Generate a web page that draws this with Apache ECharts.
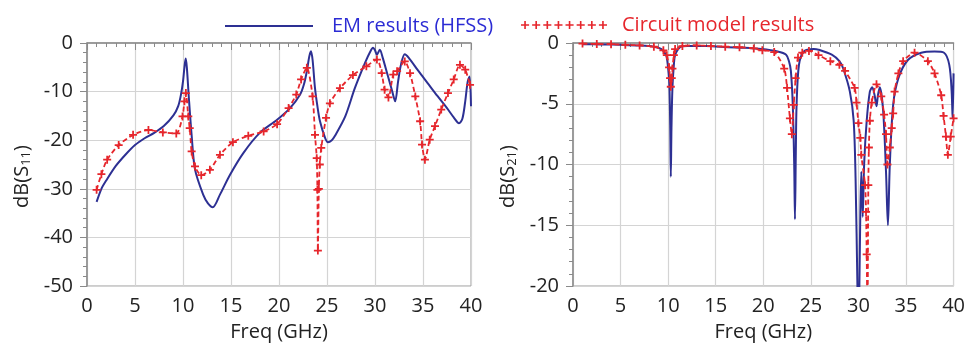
<!DOCTYPE html>
<html>
<head>
    <meta charset="utf-8">
    <title>S11 / S21</title>
    <script src="https://cdn.jsdelivr.net/npm/echarts@6.0.0/dist/echarts.min.js"></script>
    <style>
        *{
            margin: 0;
            padding: 0;
        }
        html,body{
            width: 100%;
            height: 100%;
            overflow: hidden;
            background: #fff;
        }
        #main{
            width: 968px;
            height: 348px;
        }
    </style>
</head>
<body>
<div id="main"></div>
<script>
    // legend names
    let emName = 'EM results (HFSS)';
    let circuitName = 'Circuit model results';

    // axis ticks
    let freqTicks = [0, 5, 10, 15, 20, 25, 30, 35, 40];
    let s11Ticks = [-50, -40, -30, -20, -10, 0];
    let s21Ticks = [-20, -15, -10, -5, 0];

    // S11, EM (HFSS)
    let s11EmFreq = [1.0, 1.5, 2.0, 3.0, 4.0, 5.0, 6.0, 7.0, 8.0, 9.0, 9.5, 9.8, 10.0, 10.15, 10.28, 10.4, 10.6, 10.9, 11.25, 12.1, 12.6, 13.1,
        13.85, 14.9, 16.3, 18.0, 19.8, 21.15, 22.2, 22.6, 22.9, 23.15, 23.33, 23.5, 23.75, 24.0, 24.27, 24.8, 25.1, 25.5, 25.8,
        26.9, 27.9, 28.96, 29.5, 29.8, 30.0, 30.2, 30.5, 30.8, 31.3, 31.8, 32.1, 32.4, 32.7, 33.1, 33.5, 34.5, 35.5, 36.5, 37.5,
        38.2, 38.75, 39.1, 39.4, 39.65, 39.85, 40.0];
    let s11EmDb = [-32.7, -30.0, -28.3, -25.3, -23.0, -21.0, -19.6, -18.5, -17.1, -14.9, -13.0, -10.5, -7.9, -5.0, -3.2, -5.0, -11.0, -19.0, -26.0, -31.2, -33.0, -33.8,
        -31.2, -27.1, -22.6, -18.5, -15.8, -13.4, -10.6, -8.5, -5.8, -2.8, -1.7, -3.5, -9.3, -13.0, -16.1, -19.5, -20.4, -20.0, -19.2,
        -15.1, -9.3, -4.1, -1.8, -1.0, -1.5, -2.4, -1.4, -3.0, -6.5, -10.0, -12.0, -8.0, -4.5, -2.3, -3.0, -5.7, -8.3, -10.9, -13.4,
        -15.3, -16.5, -15.6, -12.0, -8.0, -6.9, -13.0];

    // S11, circuit model
    let s11CmFreq = [1.0, 1.5, 2.1, 3.3, 4.8, 6.4, 7.9, 9.3, 9.95, 10.15, 10.3, 10.55, 10.7, 10.9, 11.25, 11.9, 12.8, 13.85, 15.2, 16.8,
        18.4, 19.8, 21.0, 21.8, 22.3, 22.9, 23.5, 23.75, 23.93, 24.0, 24.05, 24.15, 24.25, 24.4, 24.9, 25.3, 26.35, 27.7, 29.1, 30.2,
        30.7, 31.0, 31.4, 31.9, 32.3, 33.1, 33.65, 34.2, 34.7, 34.9, 35.2, 35.7, 36.25, 36.9, 37.6, 38.2, 38.85, 39.4, 39.9];
    let s11CmDb = [-30.2, -27.0, -24.0, -21.0, -18.9, -17.9, -18.4, -18.6, -15.1, -12.0, -10.3, -15.1, -17.5, -22.3, -25.4, -27.2, -26.1, -23.0, -20.4, -19.1,
        -18.2, -16.7, -13.4, -10.6, -7.5, -5.1, -11.0, -18.9, -23.7, -30.2, -42.7, -30.0, -25.0, -21.6, -15.4, -12.4, -9.3, -6.6, -4.8, -3.4,
        -6.2, -9.6, -11.2, -6.5, -5.8, -3.8, -6.2, -11.0, -16.1, -20.9, -24.0, -19.9, -17.1, -13.7, -10.3, -7.5, -4.5, -5.5, -8.6];

    // S21, EM (HFSS)
    let s21EmFreq = [1.0, 3.0, 5.0, 7.0, 8.5, 9.3, 9.7, 9.86, 10.05, 10.14, 10.22, 10.28, 10.35, 10.45, 10.6, 10.73, 11.25, 12.0, 14.0,
        16.3, 18.0, 19.8, 21.5, 22.4, 22.7, 22.9, 23.1, 23.25, 23.33, 23.42, 23.5, 23.75, 24.27, 25.3, 25.8, 27.2, 28.0, 28.4,
        29.1, 29.5, 29.7, 29.9, 30.0, 30.1, 30.2, 30.3, 30.45, 30.6, 30.87, 31.2, 31.45, 31.7, 31.9, 32.05, 32.25, 32.6, 32.9,
        33.1, 33.3, 33.65, 34.2, 35.2, 36.6, 38.0, 39.0, 39.55, 39.8, 39.9, 40.0];
    let s21EmDb = [-0.1, -0.12, -0.15, -0.2, -0.3, -0.5, -0.9, -1.2, -2.5, -3.7, -7.0, -11.0, -7.0, -3.7, -1.8, -1.0, -0.35, -0.25, -0.25,
        -0.35, -0.4, -0.5, -0.7, -0.96, -1.5, -2.3, -5.1, -10.0, -14.5, -9.0, -5.1, -1.8, -0.7, -0.5, -0.55, -0.96, -1.5, -2.1,
        -4.0, -6.4, -11.1, -20.2, -24.0, -20.0, -13.9, -10.6, -14.3, -10.0, -6.4, -4.0, -3.65, -4.3, -5.2, -4.3, -3.65, -5.6, -10.6,
        -15.0, -10.0, -5.1, -2.9, -1.4, -0.8, -0.7, -0.8, -1.8, -4.0, -6.2, -2.5];

    // S21, circuit model
    let s21CmFreq = [1.0, 2.5, 4.0, 5.5, 7.0, 8.5, 9.5, 9.86, 10.1, 10.2, 10.28, 10.38, 10.45, 10.6, 10.73, 11.5, 13.0, 14.5, 16.0,
        17.5, 19.0, 19.9, 21.15, 22.2, 22.5, 22.8, 23.0, 23.2, 23.4, 23.65, 24.1, 24.8, 25.8, 27.05, 28.0, 28.6, 29.6, 29.8, 30.0,
        30.2, 30.3, 30.7, 30.8, 30.87, 30.95, 31.04, 31.1, 31.2, 31.4, 31.9, 32.4, 32.7, 32.9, 33.05, 33.3, 33.5, 33.65, 33.8,
        34.2, 34.7, 35.9, 37.3, 38.0, 38.7, 38.95, 39.2, 39.4, 39.7, 40.0];
    let s21CmDb = [-0.05, -0.08, -0.1, -0.15, -0.2, -0.3, -0.6, -1.0, -2.0, -2.9, -3.6, -2.9, -2.1, -1.0, -0.5, -0.25, -0.2, -0.25, -0.3,
        -0.35, -0.45, -0.6, -0.75, -2.1, -3.7, -6.2, -7.5, -5.1, -2.9, -1.2, -0.8, -0.65, -1.0, -1.5, -1.8, -2.3, -3.7, -4.9, -6.6,
        -7.8, -9.2, -11.7, -13.9, -17.4, -23.0, -11.7, -8.6, -6.4, -4.9, -3.4, -4.4, -5.9, -7.5, -10.0, -8.6, -7.0, -5.8, -4.0,
        -2.5, -1.5, -0.8, -1.5, -2.5, -4.3, -6.0, -7.7, -9.2, -7.7, -6.2];

    function pairs(xs, ys) {
        return xs.map((x, i) => [x, ys[i]]);
    }

    let blue = '#2d3093';
    let red = '#e6262c';
    let textColor = '#222';
    let font = 'Open Sans';
    // small filled plus used as marker
    let plus = 'path://M3.5,0H5.5V3.5H9V5.5H5.5V9H3.5V5.5H0V3.5H3.5Z';

    // legend icon: dashed line with pluses
    let legendPath = 'path://';
    [4, 15, 26, 37, 48, 59, 70, 81].forEach(c => {
        legendPath += 'M' + (c - 4) + ',5.2H' + (c + 4) + 'V6.8H' + (c - 4) + 'Z';
        legendPath += 'M' + (c - 0.8) + ',2H' + (c + 0.8) + 'V10H' + (c - 0.8) + 'Z';
    });

    function xAxis(gridIndex) {
        return {
            gridIndex,
            type: 'value',
            min: freqTicks[0],
            max: freqTicks[freqTicks.length - 1],
            interval: freqTicks[1] - freqTicks[0],
            name: 'Freq (GHz)',
            nameLocation: 'middle',
            nameGap: 36,
            nameTextStyle: {color: textColor, fontSize: 20, fontFamily: font},
            axisLine: {lineStyle: {color: '#8a8a8a', width: 1.5}},
            axisTick: {length: 7, lineStyle: {color: '#8a8a8a'}},
            minorTick: {show: true, splitNumber: 5, length: 4, lineStyle: {color: '#8a8a8a'}},
            axisLabel: {color: textColor, fontSize: 20, fontFamily: font, margin: 10},
            splitLine: {lineStyle: {color: '#d4d4d4', width: 1.2}}
        };
    }

    function yAxis(gridIndex, ticks, sub, minorSplit) {
        return {
            gridIndex,
            type: 'value',
            min: ticks[0],
            max: ticks[ticks.length - 1],
            interval: ticks[1] - ticks[0],
            name: 'dB(S{s|' + sub + '})',
            nameLocation: 'middle',
            nameGap: 54,
            nameTextStyle: {
                color: textColor, fontSize: 20, fontFamily: font,
                padding: [0, 24, 0, 0],
                rich: {s: {fontSize: 13, fontFamily: font, color: textColor, padding: [9, 0, 0, 0]}}
            },
            axisLine: {show: true, lineStyle: {color: '#8a8a8a', width: 1.5}},
            axisTick: {show: true, length: 7, lineStyle: {color: '#8a8a8a'}},
            minorTick: {show: true, splitNumber: minorSplit, length: 4, lineStyle: {color: '#8a8a8a'}},
            axisLabel: {color: textColor, fontSize: 20, fontFamily: font, margin: 14},
            splitLine: {lineStyle: {color: '#d4d4d4', width: 1.2}}
        };
    }

    function emSeries(idx, data) {
        return {
            name: emName,
            type: 'line',
            xAxisIndex: idx,
            yAxisIndex: idx,
            data,
            symbol: 'none',
            smooth: 0.3,
            lineStyle: {color: blue, width: 2},
            itemStyle: {color: blue},
            z: 3
        };
    }

    function cmSeries(idx, data) {
        return {
            name: circuitName,
            type: 'line',
            xAxisIndex: idx,
            yAxisIndex: idx,
            data,
            symbol: plus,
            symbolSize: 8,
            showAllSymbol: true,
            smooth: 0.25,
            lineStyle: {color: red, width: 1.8, type: [5, 3]},
            itemStyle: {color: red},
            z: 4
        };
    }

    let myCharts = echarts.init(document.getElementById('main'), null, {renderer: 'canvas'});
    let option = {
        backgroundColor: '#fff',
        animation: false,
        legend: [{
            data: [{name: emName, icon: 'path://M0,0H88V2H0Z'}],
            left: 220,
            top: 11,
            itemWidth: 88,
            itemHeight: 2,
            textStyle: {color: '#2b2bd4', fontSize: 20, fontFamily: font, padding: [0, 0, 0, 14]}
        }, {
            data: [{name: circuitName, icon: legendPath}],
            left: 516,
            top: 10,
            itemWidth: 86,
            itemHeight: 12,
            textStyle: {color: red, fontSize: 20, fontFamily: font, padding: [0, 0, 0, 10]}
        }],
        grid: [
            {left: 87, top: 43, width: 384, height: 243, show: true, borderColor: '#9a9a9a', borderWidth: 1},
            {left: 573, top: 43, width: 384, height: 243, show: true, borderColor: '#9a9a9a', borderWidth: 1}
        ],
        xAxis: [xAxis(0), xAxis(1)],
        yAxis: [yAxis(0, s11Ticks, '11', 5), yAxis(1, s21Ticks, '21', 5)],
        series: [
            emSeries(0, pairs(s11EmFreq, s11EmDb)),
            cmSeries(0, pairs(s11CmFreq, s11CmDb)),
            emSeries(1, pairs(s21EmFreq, s21EmDb)),
            cmSeries(1, pairs(s21CmFreq, s21CmDb))
        ]
    };
    myCharts.setOption(option);
</script>
</body>
</html>
